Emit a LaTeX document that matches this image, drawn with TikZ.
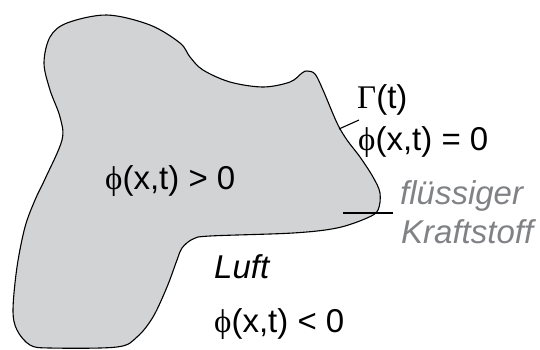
\documentclass[tikz,border=0pt]{standalone}
\usepackage{fontspec}
\setmainfont{Liberation Sans}
\newfontfamily\phifont{Liberation Serif}
\newcommand{\myphi}{{\phifont ϕ}}
\newcommand{\myGamma}{{\phifont Γ}}
\definecolor{blobfill}{RGB}{209,211,212}
\definecolor{txtgray}{RGB}{128,130,133}
\begin{document}
\begin{tikzpicture}[x=1pt,y=-1pt,
  blob/.style={draw=black, line width=1.1pt, fill=blobfill},
  lbl/.style={inner sep=0pt, anchor=base west, font=\fontsize{33}{38}\selectfont},
  glbl/.style={lbl, text=txtgray, font=\fontsize{33}{38}\selectfont\itshape},
  tick/.style={draw=black, line width=1.1pt}]
\useasboundingbox (0,0) rectangle (540,349);
\path[blob] plot[smooth cycle, tension=0.55] coordinates {
  (44,63) (50,37) (67,23) (107,15) (150,25) (180,43) (190,57) (203,70)
  (230,82) (263,87) (290,82) (302,73) (307,71) (315,74) (323,90)
  (337,123) (347,140) (360,157) (373,177) (380,193) (378,210) (367,218)
  (337,228) (293,233) (210,236) (193,239) (182,248) (177,260) (167,287)
  (153,317) (137,337) (117,347) (50,348) (30,345) (17,330) (13,310)
  (17,267) (25,227) (35,200) (45,179) (62,140) (60,117) (50,90)};
\coordinate (ta) at (339,129);
\coordinate (tb) at (359,120);
\coordinate (ha) at (343,213);
\coordinate (hb) at (393,213);
\draw[tick] (ta) -- (tb);
\draw[tick] (ha) -- (hb);
\node[lbl] (gam) at (357,108) {\myGamma(t)};
\node[lbl] (eq0) at (358,150) {\myphi(x,t) = 0};
\node[lbl] (gt0) at (105,189) {\myphi(x,t) > 0};
\node[glbl] (fl) at (400,204) {flüssiger};
\node[glbl] (kr) at (401,243) {Kraftstoff};
\node[lbl, font=\fontsize{33}{38}\selectfont\itshape] (luft) at (214,278) {Luft};
\node[lbl] (lt0) at (214,332) {\myphi(x,t) < 0};
\end{tikzpicture}
\end{document}
